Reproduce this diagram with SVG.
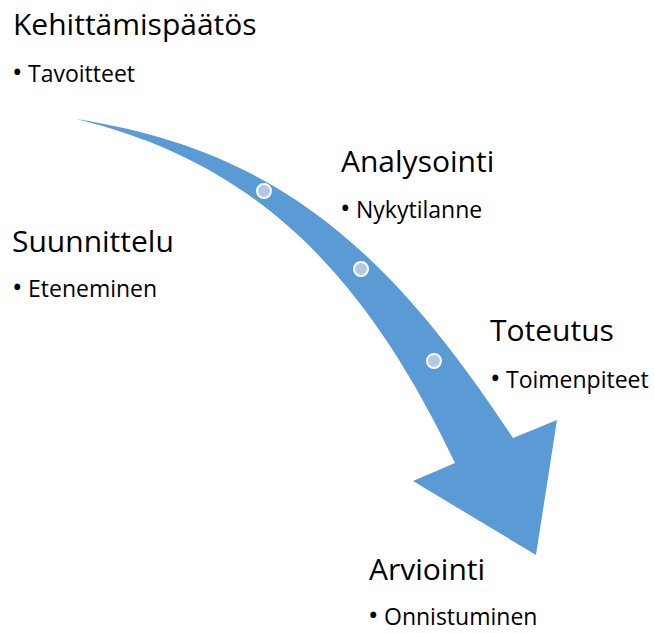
<svg xmlns="http://www.w3.org/2000/svg" width="654" height="633" viewBox="0 0 654 633">
<style>
.h{font-family:"Open Sans","Liberation Sans",sans-serif;font-size:30px;fill:#000}
.b{font-family:"Open Sans","Liberation Sans",sans-serif;font-size:23px;fill:#000}
.bu{font-size:28px}
.dot{fill:#B4C7E7;stroke:#fff;stroke-width:2}
</style>
<rect width="654" height="633" fill="#fff"/>
<g id="connectors">
<path id="arrow" d="M76,119 C276,150 388,248 513,438 L557,420 L536,555 L413,481 L455,463 C365,274 256,162 76,119 Z" fill="#5B9BD5"/>
<circle class="dot" cx="264" cy="191" r="7"/>
<circle class="dot" cx="361" cy="269" r="7"/>
<circle class="dot" cx="434" cy="361" r="7"/>
</g>
<g id="kehittamispaatos"><text class="h" x="13" y="35">Kehittämispäätös</text><text class="b" x="12" y="82"><tspan class="bu">•</tspan><tspan x="28">Tavoitteet</tspan></text></g>
<g id="analysointi"><text class="h" x="341" y="172">Analysointi</text><text class="b" x="340" y="218"><tspan class="bu">•</tspan><tspan x="356">Nykytilanne</tspan></text></g>
<g id="suunnittelu"><text class="h" x="12" y="252">Suunnittelu</text><text class="b" x="12" y="297"><tspan class="bu">•</tspan><tspan x="28">Eteneminen</tspan></text></g>
<g id="toteutus"><text class="h" x="490" y="341">Toteutus</text><text class="b" x="490" y="388"><tspan class="bu">•</tspan><tspan x="506">Toimenpiteet</tspan></text></g>
<g id="arviointi"><text class="h" x="369" y="580">Arviointi</text><text class="b" x="368" y="625"><tspan class="bu">•</tspan><tspan x="384">Onnistuminen</tspan></text></g>
</svg>
